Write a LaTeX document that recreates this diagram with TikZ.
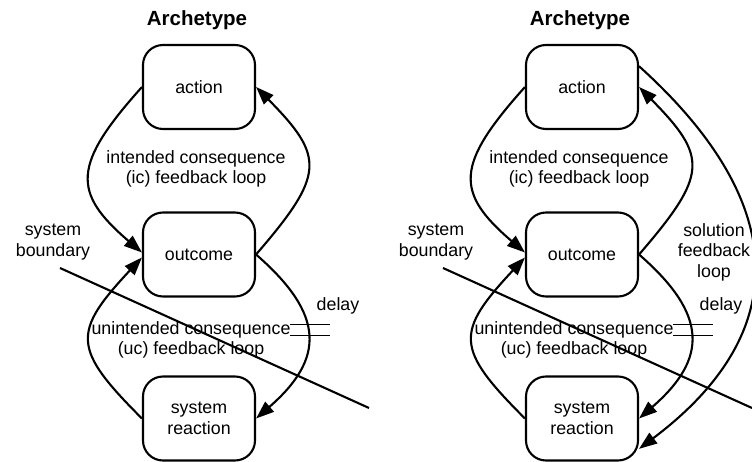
\documentclass[tikz,border=0pt]{standalone}
\usepackage{fontspec}
\setmainfont{Liberation Sans}
\usetikzlibrary{arrows.meta}

% type sizes
\newcommand\lblfont{\fontsize{17.8}{20.5}\selectfont}
\newcommand\headfont{\fontsize{20.5}{24}\selectfont\bfseries}

\tikzset{
  stagebox/.style={draw, line width=2.1pt, rounded corners=20pt,
    minimum width=112pt, minimum height=84pt, inner sep=0pt,
    align=center, font=\lblfont},
  lbl/.style={font=\lblfont, align=center, inner sep=0pt},
  headtext/.style={font=\headfont, inner sep=0pt},
  link/.style={line width=2.1pt},
  fb/.style={link, -{Triangle[length=18pt,width=13pt]}},
  delaymark/.style={line width=1.7pt},
}

% one archetype panel: #1 = horizontal offset, #2 = name prefix
\newcommand\archpanel[2]{%
  \begin{scope}[shift={(#1,0)}]
    \node[headtext] (#2title) at (197,20) {Archetype};
    \node[stagebox] (#2act) at (199,87) {action};
    \node[stagebox] (#2out) at (199,254.5) {outcome};
    \node[stagebox] (#2sr) at (199,418.5) {system\\reaction};
    \node[lbl] (#2ic) at (196,169) {intended consequence\\(ic) feedback loop};
    \node[lbl] (#2uc) at (191,340) {unintended consequence\\(uc) feedback loop};
    \node[lbl] (#2sb) at (53,242) {system\\boundary};
    \node[lbl] (#2dl) at (338,306) {delay};
    % intended consequence loop
    \draw[fb] (#2act.west) .. controls +(-70,78) and +(-70,-60) .. ([yshift=2pt]#2out.west);
    \draw[fb] (#2out.east) .. controls +(69,-80) and +(69,70) .. (#2act.east);
    % unintended consequence loop
    \draw[fb] (#2out.east) .. controls +(69,60) and +(69,-60) .. (#2sr.east);
    \draw[fb] (#2sr.west) .. controls +(-70,-70) and +(-70,75) .. ([yshift=-3pt]#2out.west);
    % delay marks across the uc loop
    \draw[delaymark] (290,324.5) -- (330,324.5) (290,335.5) -- (330,335.5);
    % system boundary
    \coordinate (#2b1) at (60,268);
    \coordinate (#2b2) at (369,408);
    \draw[link] (#2b1) -- (#2b2);
  \end{scope}}

\begin{document}
\begin{tikzpicture}[x=1pt,y=-1pt]
  \useasboundingbox (0,0) rectangle (752,462);
  \archpanel{0}{l}
  \archpanel{383}{r}
  % solution feedback loop of the second panel
  \node[lbl] (rsol) at (714,252) {solution\\feedback\\loop};
  \draw[fb] (ract.20) .. controls +(153,138) and +(153,-115) .. (rsr.-28);
\end{tikzpicture}
\end{document}
